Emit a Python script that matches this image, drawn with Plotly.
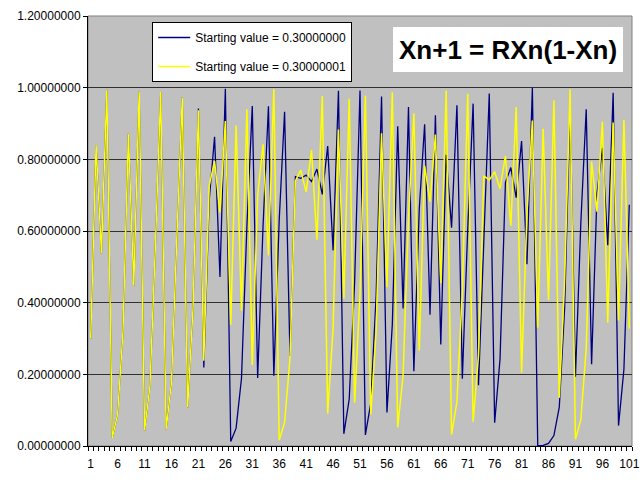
import plotly.graph_objects as go

# iteration number 1..101
steps = list(range(1, 102))

# values (R = 4)
common_start = [0.3000, 0.8400, 0.5376, 0.9943, 0.0225, 0.0879, 0.3208, 0.8716, 0.4476, 0.9890,
                0.0434, 0.1662, 0.5542, 0.9882, 0.0465, 0.1772, 0.5832, 0.9723, 0.1078, 0.3846]

x0_a = common_start + [
    0.942, 0.219, 0.685, 0.863, 0.472, 0.997, 0.0127, 0.0498, 0.189, 0.613,
    0.949, 0.190, 0.614, 0.948, 0.196, 0.630, 0.933, 0.251, 0.7515, 0.747,
    0.756, 0.738, 0.773, 0.702, 0.837, 0.546, 0.9915, 0.034, 0.131, 0.456,
    0.992, 0.031, 0.1195, 0.421, 0.975, 0.0935, 0.339, 0.892, 0.384, 0.946,
    0.2085, 0.660, 0.898, 0.366, 0.923, 0.2835, 0.8125, 0.6095, 0.951, 0.1875,
    0.6056, 0.9554, 0.1695, 0.563, 0.984, 0.065, 0.243, 0.736, 0.777, 0.693,
    0.851, 0.507, 0.9998, 0.0008, 0.0019, 0.0074, 0.029, 0.1085, 0.387, 0.949,
    0.193, 0.623, 0.940, 0.228, 0.705, 0.832, 0.560, 0.986, 0.057, 0.214,
    0.673]

x0_b = common_start + [
    0.937, 0.238, 0.726, 0.795, 0.652, 0.907, 0.338, 0.8945, 0.3775, 0.940,
    0.226, 0.699, 0.842, 0.532, 0.9958, 0.0169, 0.0655, 0.245, 0.740, 0.770,
    0.709, 0.8256, 0.576, 0.977, 0.0904, 0.329, 0.883, 0.412, 0.969, 0.121,
    0.425, 0.9775, 0.088, 0.322, 0.873, 0.443, 0.987, 0.052, 0.1975, 0.634,
    0.928, 0.2665, 0.782, 0.681, 0.869, 0.455, 0.992, 0.032, 0.124, 0.435,
    0.983, 0.0676, 0.252, 0.754, 0.742, 0.7655, 0.718, 0.810, 0.615, 0.9458,
    0.2046, 0.651, 0.9086, 0.3304, 0.885, 0.4065, 0.965, 0.1348, 0.466, 0.9953,
    0.0187, 0.0737, 0.273, 0.794, 0.654, 0.905, 0.344, 0.903, 0.350, 0.910,
    0.328]

x_labels = list(range(1, 102, 5))

fig = go.Figure()
fig.add_trace(go.Scatter(x=steps, y=x0_a, mode="lines",
                         name="Starting value = 0.30000000", legendgroup="a",
                         line=dict(color="#000080", width=1.3)))
fig.add_trace(go.Scatter(x=steps, y=x0_b, mode="lines",
                         name="Starting value = 0.30000001", legendgroup="b",
                         line=dict(color="#FFFF00", width=1.5)))

# plot area border
fig.add_shape(type="rect", xref="paper", yref="paper", x0=0, y0=0, x1=1, y1=1,
              line=dict(color="#808080", width=1), layer="below")

# white box behind the formula
fig.add_shape(type="rect", xref="paper", yref="paper",
              x0=0.5607, x1=0.9835, y0=0.8698, y1=0.9744,
              fillcolor="white", line=dict(width=0), layer="above")
fig.add_annotation(text="<b>Xn+1 = RXn(1-Xn)</b>", xref="paper", yref="paper",
                   x=0.772, y=0.922, xanchor="center", yanchor="middle", showarrow=False,
                   font=dict(family="Liberation Sans, Arial", size=26, color="black"))

fig.update_layout(
    width=640, height=480,
    margin=dict(l=88, r=8, t=16, b=34),
    paper_bgcolor="white", plot_bgcolor="#C0C0C0",
    font=dict(family="Liberation Sans, Arial", size=12, color="black"),
    legend=dict(x=0.118, y=0.986, xanchor="left", yanchor="top",
                bgcolor="white", bordercolor="black", borderwidth=1,
                tracegroupgap=10, font=dict(size=12), itemwidth=32),
)
fig.update_xaxes(range=[0.5, 101.5], tickmode="array", tickvals=x_labels,
                 ticks="", showgrid=False, zeroline=False, automargin=False,
                 showline=True, linecolor="black", linewidth=1,
                 ticklabelstandoff=7,
                 minor=dict(ticks="outside", tickmode="linear", tick0=0.5, dtick=1,
                            ticklen=4, tickcolor="black", showgrid=False),
                 tickfont=dict(size=12))
fig.update_yaxes(range=[0, 1.2], dtick=0.2, tickformat=".8f", automargin=False,
                 showgrid=True, gridcolor="#303030", gridwidth=1, zeroline=False,
                 showline=True, linecolor="black", linewidth=1,
                 ticks="outside", ticklen=4, tickcolor="black",
                 tickfont=dict(size=12))

# drop the page's default body margin so the 640x480 figure fills the window
fig.write_html("out.html", config={"displayModeBar": False},
               post_script="document.body.style.margin='0px';")
